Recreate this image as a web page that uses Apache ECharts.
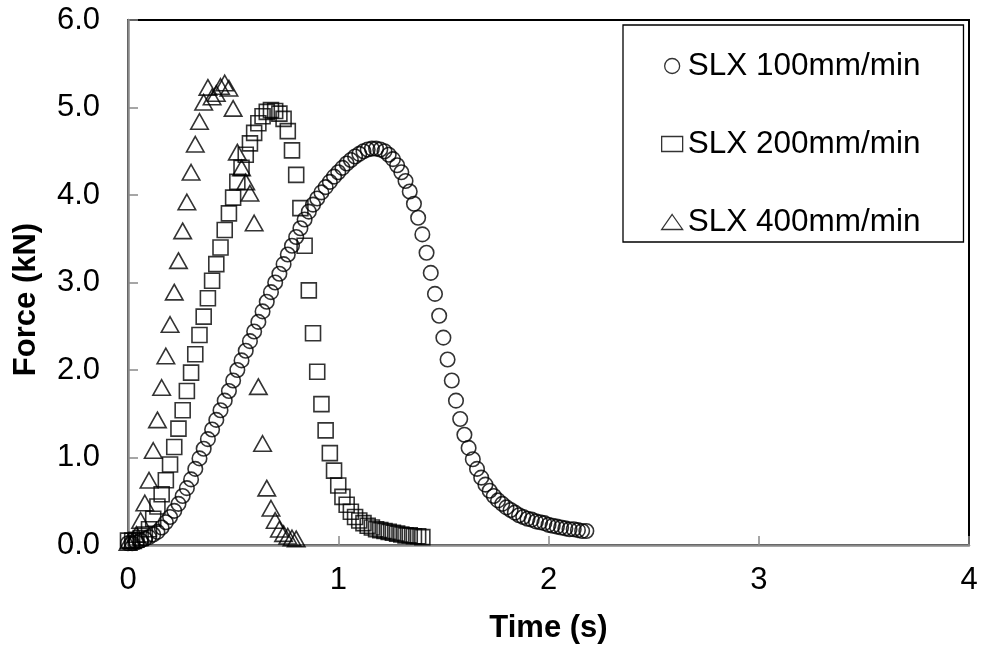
<!DOCTYPE html>
<html>
<head>
<meta charset="utf-8">
<script src="https://cdn.jsdelivr.net/npm/echarts@6/dist/echarts.min.js"></script>
<style>html,body{margin:0;padding:0;background:#fff;}#c{width:983px;height:652px;}</style>
</head>
<body>
<div id="c"></div>
<script>
var seriesNames = ['SLX 100mm/min', 'SLX 200mm/min', 'SLX 400mm/min'];
var xTicks = ['0', '1', '2', '3', '4'];
var yTicks = ['0.0', '1.0', '2.0', '3.0', '4.0', '5.0', '6.0'];

var time100 = [0.00,0.02,0.04,0.06,0.08,0.10,0.12,0.14,0.16,0.18,0.20,0.22,0.24,0.26,0.28,0.30,0.32,0.34,0.36,0.38,
0.40,0.42,0.44,0.46,0.48,0.50,0.52,0.54,0.56,0.58,0.60,0.62,0.64,0.66,0.68,0.70,0.72,0.74,0.76,0.78,
0.80,0.82,0.84,0.86,0.88,0.90,0.92,0.94,0.96,0.98,1.00,1.02,1.04,1.06,1.08,1.10,1.12,1.14,1.16,1.18,
1.20,1.22,1.24,1.26,1.28,1.30,1.32,1.34,1.36,1.38,1.40,1.42,1.44,1.46,1.48,1.50,1.52,1.54,1.56,1.58,
1.60,1.62,1.64,1.66,1.68,1.70,1.72,1.74,1.76,1.78,1.80,1.82,1.84,1.86,1.88,1.90,1.92,1.94,1.96,1.98,
2.00,2.02,2.04,2.06,2.08,2.10,2.12,2.14,2.16,2.18];
var force100 = [0.02,0.02,0.03,0.05,0.07,0.09,0.12,0.15,0.20,0.26,0.32,0.39,0.47,0.56,0.65,0.75,0.87,0.99,1.10,1.21,
1.32,1.43,1.54,1.65,1.76,1.88,2.00,2.11,2.22,2.33,2.44,2.55,2.67,2.78,2.89,3.00,3.10,3.21,3.32,3.42,
3.52,3.62,3.72,3.81,3.89,3.96,4.03,4.09,4.15,4.21,4.26,4.31,4.36,4.40,4.44,4.47,4.50,4.52,4.53,4.53,
4.52,4.50,4.46,4.41,4.34,4.26,4.16,4.04,3.90,3.74,3.55,3.34,3.11,2.87,2.62,2.37,2.12,1.88,1.65,1.44,
1.26,1.11,0.98,0.87,0.77,0.69,0.62,0.56,0.51,0.47,0.43,0.40,0.37,0.34,0.32,0.30,0.29,0.27,0.26,0.25,
0.23,0.22,0.21,0.20,0.19,0.18,0.18,0.17,0.16,0.16];

var time200 = [0.00,0.02,0.04,0.06,0.08,0.10,0.12,0.14,0.16,0.18,0.20,0.22,0.24,0.26,0.28,0.30,0.32,0.34,0.36,0.38,
0.40,0.42,0.44,0.46,0.48,0.50,0.52,0.54,0.56,0.58,0.60,0.62,0.64,0.66,0.68,0.70,0.72,0.74,0.76,0.78,
0.80,0.82,0.84,0.86,0.88,0.90,0.92,0.94,0.96,0.98,1.00,1.02,1.04,1.06,1.08,1.10,1.12,1.14,1.16,1.18,
1.20,1.22,1.24,1.26,1.28,1.30,1.32,1.34,1.36,1.38,1.40];
var force200 = [0.05,0.05,0.06,0.08,0.12,0.18,0.30,0.44,0.58,0.74,0.92,1.12,1.33,1.54,1.76,1.97,2.18,2.40,2.61,2.82,
3.02,3.21,3.40,3.60,3.79,3.97,4.15,4.31,4.46,4.59,4.71,4.82,4.90,4.95,4.97,4.96,4.93,4.87,4.73,4.51,
4.23,3.85,3.42,2.91,2.42,1.98,1.61,1.31,1.05,0.85,0.68,0.55,0.46,0.38,0.32,0.28,0.25,0.22,0.20,0.18,
0.17,0.16,0.15,0.14,0.13,0.12,0.11,0.11,0.10,0.10,0.09];

var time400 = [0.00,0.02,0.04,0.06,0.08,0.10,0.12,0.14,0.16,0.18,0.20,0.22,0.24,0.26,0.28,0.30,0.32,0.34,0.36,0.38,
0.40,0.42,0.44,0.46,0.48,0.50,0.52,0.54,0.56,0.58,0.60,0.62,0.64,0.66,0.68,0.70,0.72,0.74,0.76,0.78,0.80];
var force400 = [0.03,0.05,0.12,0.28,0.48,0.74,1.08,1.43,1.80,2.16,2.52,2.89,3.25,3.59,3.92,4.26,4.58,4.84,5.06,5.23,
5.12,5.16,5.24,5.28,5.22,4.99,4.49,4.31,4.15,4.02,3.68,1.81,1.16,0.65,0.42,0.28,0.18,0.13,0.10,0.08,0.07];

function pairs(t, f) { return t.map(function (v, i) { return [v, f[i]]; }); }

var FONT = '"Liberation Sans", Arial, sans-serif';
var AXIS_GRAY = '#898989';

var markerStyle = { color: 'rgba(0,0,0,0)', borderColor: '#000', borderWidth: 1.6 };

var chart = echarts.init(document.getElementById('c'), null, { renderer: 'canvas' });
chart.setOption({
  animation: false,
  backgroundColor: '#fff',
  textStyle: { fontFamily: FONT },
  grid: {
    left: 128, right: 14, top: 20, bottom: 107,
    show: true, borderColor: '#000', borderWidth: 2, backgroundColor: 'rgba(0,0,0,0)'
  },
  legend: {
    orient: 'vertical',
    left: 623, top: 25,
    padding: [25, 43, 4, 38],
    itemGap: 46,
    itemWidth: 21, itemHeight: 15,
    backgroundColor: '#fff',
    borderColor: '#000', borderWidth: 1.3,
    textStyle: { fontFamily: FONT, fontSize: 31.5, color: '#000' },
    itemStyle: { color: 'rgba(0,0,0,0)', borderColor: '#000', borderWidth: 1.3 },
    data: seriesNames
  },
  xAxis: {
    type: 'value', min: 0, max: 4, interval: 1,
    name: 'Time (s)', nameLocation: 'middle', nameGap: 68,
    nameTextStyle: { fontFamily: FONT, fontSize: 31, fontWeight: 'bold', color: '#000' },
    axisLine: { show: true, onZero: false, lineStyle: { color: AXIS_GRAY, width: 2.5 } },
    axisTick: { show: true, inside: true, length: 9, lineStyle: { color: AXIS_GRAY, width: 1.5 } },
    axisLabel: { fontFamily: FONT, fontSize: 31, color: '#000', margin: 20,
      formatter: function (v) { return xTicks[Math.round(v)]; } },
    splitLine: { show: false }
  },
  yAxis: {
    type: 'value', min: 0, max: 6, interval: 1,
    name: 'Force (kN)', nameLocation: 'middle', nameGap: 86, nameRotate: 90,
    nameTextStyle: { fontFamily: FONT, fontSize: 31, fontWeight: 'bold', color: '#000', padding: [0, 34, 0, 0] },
    axisLine: { show: true, onZero: false, lineStyle: { color: AXIS_GRAY, width: 2.5 } },
    axisTick: { show: true, inside: true, length: 10, lineStyle: { color: AXIS_GRAY, width: 1.5 } },
    axisLabel: { fontFamily: FONT, fontSize: 31, color: '#000', margin: 28,
      formatter: function (v) { return yTicks[Math.round(v)]; } },
    splitLine: { show: false }
  },
  series: [
    { name: seriesNames[0], type: 'scatter', symbol: 'circle', symbolSize: 14.5,
      itemStyle: markerStyle, data: pairs(time100, force100) },
    { name: seriesNames[1], type: 'scatter', symbol: 'rect', symbolSize: 15,
      itemStyle: markerStyle, data: pairs(time200, force200) },
    { name: seriesNames[2], type: 'scatter', symbol: 'triangle', symbolSize: [17.5, 15.5],
      itemStyle: markerStyle, data: pairs(time400, force400) }
  ]
});
</script>
</body>
</html>
